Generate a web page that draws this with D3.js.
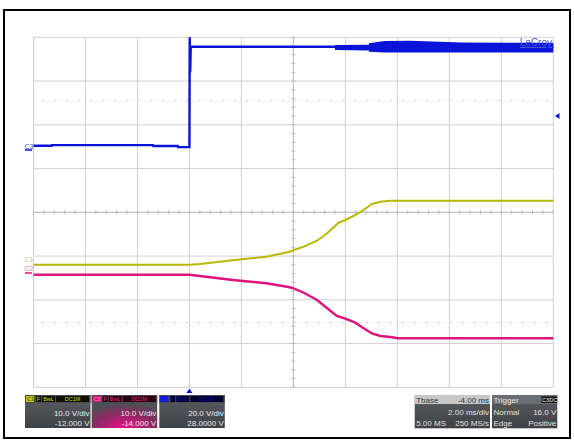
<!DOCTYPE html>
<html><head><meta charset="utf-8">
<script src="https://cdn.jsdelivr.net/npm/d3@7"></script>
<style>html,body{margin:0;padding:0;background:#fff;}svg{display:block;font-family:"Liberation Sans",Arial,sans-serif;}</style>
</head><body>
<script>
// ---- data (time in ms relative to trigger, values in volts) ----
const channels = ["C1","C2","C3"];
const chColors = ["#b8b800","#e0127c","#0a14d8"];
const voltsPerDiv = [10, 10, 20];
const offsets = [-12, -14, 28];
const vdivLabels = ["10.0 V/div","10.0 V/div","20.0 V/div"];
const offsetLabels = ["-12.000 V","-14.000 V","28.0000 V"];

const c1Time = [-6, 0, 0.4, 1.67, 2.96, 3.86, 4.01, 4.4, 4.91, 5.3, 5.74, 6.0, 6.38, 6.7, 7.02, 7.35, 7.73, 14];
const c1Volts = [0, 0, 0.18, 1.03, 1.85, 3.0, 3.38, 4.14, 5.51, 7.2, 9.62, 10.24, 11.38, 12.53, 13.9, 14.42, 14.65, 14.65];

const c2Time = [-6, 0, 0.4, 1.67, 2.96, 3.86, 4.01, 4.4, 4.91, 5.3, 5.67, 6.0, 6.38, 6.7, 7.02, 7.35, 7.73, 8.02, 14];
const c2Volts = [-0.26, -0.26, -0.56, -1.47, -2.23, -3.14, -3.37, -4.38, -6.05, -7.94, -9.7, -10.32, -11.23, -12.51, -13.66, -14.27, -14.5, -14.8, -14.8];

const c3Time = [-6, -5.3, -5.29, -1.4, -1.39, -0.45, -0.44, 0, 0.01, 0.03, 0.05, 14];
const c3Volts = [2.4, 2.4, 2.7, 2.7, 2.3, 2.3, 1.8, 1.8, 52, 36, 47.7, 47.7];
// noise envelope of C3 after the step
const c3EnvTime = [5.6, 6.9, 6.91, 7.5, 8.5, 10.5, 14];
const c3EnvHigh = [48.5, 48.6, 49.3, 50.3, 50.4, 49.6, 49.5];
const c3EnvLow = [46.2, 46.0, 45.4, 45.0, 45.0, 45.0, 45.0];

const triggerTime = 0, triggerLevel = 16.0;
const timeDomain = [-6, 14];   // 10 div x 2 ms/div, Tbase -4.00 ms
const divDomain = [-4, 4];

const tbaseRows = [["Tbase","-4.00 ms"],["","2.00 ms/div"],["5.00 MS","250 MS/s"]];
const triggerRows = [["Trigger",""],["Normal","16.0 V"],["Edge","Positive"]];

// ---- drawing ----
const W = 574, H = 440;
const svg = d3.select("body").append("svg").attr("width", W).attr("height", H);
const defs = svg.append("defs");

// frame
svg.append("rect").attr("x",4).attr("y",10).attr("width",566).attr("height",428)
  .attr("fill","#fff").attr("stroke","#000").attr("stroke-width",2);

const x = d3.scaleLinear().domain(timeDomain).range([33.5, 553.3]);
const yd = d3.scaleLinear().domain(divDomain).range([387.3, 37.3]);
const yCh = i => v => yd((v + offsets[i]) / voltsPerDiv[i]);

const g = svg.append("g");
// grid
const xDivs = d3.range(timeDomain[0], timeDomain[1] + 0.001, 2);
const yDivs = d3.range(-4, 4.001, 1);
g.selectAll("line.vg").data(xDivs).join("line")
  .attr("x1", d => x(d)).attr("x2", d => x(d)).attr("y1", yd(4)).attr("y2", yd(-4))
  .attr("stroke", "#d0d0d0").attr("stroke-width", 1);
g.selectAll("line.hg").data(yDivs).join("line")
  .attr("y1", d => yd(d)).attr("y2", d => yd(d)).attr("x1", x(timeDomain[0])).attr("x2", x(timeDomain[1]))
  .attr("stroke", "#d0d0d0").attr("stroke-width", 1);
// dotted lines at +/- 2.5 div
g.selectAll("line.dg").data([2.55, -2.52]).join("line")
  .attr("y1", d => yd(d)).attr("y2", d => yd(d)).attr("x1", x(timeDomain[0]) + 8).attr("x2", x(timeDomain[1]) - 4)
  .attr("stroke", "#d4d4d4").attr("stroke-width", 1).attr("stroke-dasharray", "3,4,1,4");
// center axis minor ticks
const tc = 4;
g.selectAll("line.mx").data(d3.range(timeDomain[0], timeDomain[1] + 0.001, 0.4)).join("line")
  .attr("x1", d => x(d)).attr("x2", d => x(d)).attr("y1", yd(0) - 2).attr("y2", yd(0) + 2)
  .attr("stroke", "#b8b8b8");
g.selectAll("line.my").data(d3.range(-4, 4.001, 0.2)).join("line")
  .attr("y1", d => yd(d)).attr("y2", d => yd(d)).attr("x1", x(tc) - 2).attr("x2", x(tc) + 2)
  .attr("stroke", "#b8b8b8");
g.append("line").attr("x1", x(timeDomain[0])).attr("x2", x(timeDomain[1])).attr("y1", yd(0)).attr("y2", yd(0)).attr("stroke", "#c0c0c0");
g.append("line").attr("x1", x(tc)).attr("x2", x(tc)).attr("y1", yd(4)).attr("y2", yd(-4)).attr("stroke", "#c0c0c0");

// traces
const mk = (ts, vs) => ts.map((t, k) => [t, vs[k]]);
const line = i => d3.line().x(d => x(d[0])).y(d => yCh(i)(d[1]));
// C3 envelope
svg.append("path").datum(c3EnvTime.map((t,k)=>[t,c3EnvLow[k],c3EnvHigh[k]]))
  .attr("d", d3.area().x(d => x(d[0])).y0(d => yCh(2)(d[1])).y1(d => yCh(2)(d[2])))
  .attr("fill", chColors[2]);
svg.append("path").datum(mk(c3Time, c3Volts)).attr("d", line(2))
  .attr("fill", "none").attr("stroke", chColors[2]).attr("stroke-width", 2.4);
svg.append("path").datum(mk(c1Time, c1Volts)).attr("d", line(0))
  .attr("fill", "none").attr("stroke", chColors[0]).attr("stroke-width", 2);
svg.append("path").datum(mk(c2Time, c2Volts)).attr("d", line(1))
  .attr("fill", "none").attr("stroke", chColors[1]).attr("stroke-width", 2.4);

// LeCroy logo (drawn over the trace)
svg.append("text").attr("x", 552).attr("y", 46).attr("text-anchor", "end")
  .attr("font-size", 10).attr("fill", "#4a5ad8").attr("text-decoration", "underline").text("LeCroy");

// channel markers on left
const labelColors = ["#c8c878", "#d87aa8", "#5060c8"];
[[0, 259, null], [1, 268, 273], [2, 146, 150]].forEach(([i, ty, ly]) => {
  svg.append("text").attr("x", 24.5).attr("y", ty + 2.5).attr("font-size", 7)
    .attr("fill", labelColors[i]).text(channels[i]);
  if (ly) svg.append("line").attr("x1", 25).attr("x2", 32).attr("y1", ly).attr("y2", ly)
    .attr("stroke", chColors[i]).attr("stroke-width", 1.5);
});

// trigger markers
const tx = x(triggerTime), ty = yCh(2)(triggerLevel);
svg.append("path").attr("d", `M${tx-3},${393} L${tx+3},${393} L${tx},${388.5} Z`).attr("fill", chColors[2]);
svg.append("path").attr("d", `M${555},${ty} L${559.5},${ty-3} L${559.5},${ty+3} Z`).attr("fill", chColors[2]);

// channel info boxes
const gradBox = defs.append("linearGradient").attr("id","gbox").attr("x1",0).attr("y1",0).attr("x2",0).attr("y2",1);
gradBox.append("stop").attr("offset","0").attr("stop-color","#5a5e63");
gradBox.append("stop").attr("offset","1").attr("stop-color","#3e4146");
const gradM = defs.append("radialGradient").attr("id","gmag").attr("cx","0.5").attr("cy","1").attr("r","0.75");
gradM.append("stop").attr("offset","0").attr("stop-color","#f0108a");
gradM.append("stop").attr("offset","0.6").attr("stop-color","#8a2a62");
gradM.append("stop").attr("offset","1").attr("stop-color","#4e4f55");

const boxX = [25, 91.7, 159.3];
const hdrText = ["#d8d800", "#f02888", "#1010a0"];
const hdrBg = ["#101000", "#2a0010", "#000030"];
channels.forEach((c, i) => {
  const bx = boxX[i], bw = 65.5, by = 395, bh = 33;
  const bg = svg.append("g");
  bg.append("rect").attr("x", bx).attr("y", by).attr("width", bw).attr("height", bh)
    .attr("fill", i === 1 ? "url(#gmag)" : "url(#gbox)");
  bg.append("rect").attr("x", bx).attr("y", by).attr("width", bw).attr("height", 8).attr("fill", "#4a4d52");
  // badge
  bg.append("rect").attr("x", bx + 1).attr("y", by + 1).attr("width", 8).attr("height", 6).attr("fill", chColors[i] === "#b8b800" ? "#c8c800" : chColors[i]);
  bg.append("text").attr("x", bx + 2).attr("y", by + 6.3).attr("font-size", 5.5).attr("font-weight","bold")
    .attr("fill", i === 0 ? "#606000" : (i === 1 ? "#ff70b0" : "#2020ff")).text(c);
  const tags = [["F", 11, 5], ["BwL", 17, 13], ["DC1M", 31, 33]];
  tags.forEach(([t, ox, w]) => {
    bg.append("rect").attr("x", bx + ox).attr("y", by + 1).attr("width", w).attr("height", 6).attr("fill", hdrBg[i]);
    bg.append("text").attr("x", bx + ox + w / 2).attr("y", by + 6.2).attr("text-anchor", "middle")
      .attr("font-size", 5.5).attr("fill", hdrText[i]).text(t);
  });
  bg.append("text").attr("x", bx + bw - 1).attr("y", by + 20.5).attr("text-anchor", "end")
    .attr("font-size", 8).attr("fill", "#e8e8e8").text(vdivLabels[i]);
  bg.append("text").attr("x", bx + bw - 1).attr("y", by + 31).attr("text-anchor", "end")
    .attr("font-size", 8).attr("fill", "#e8e8e8").text(offsetLabels[i]);
});

// timebase & trigger boxes
function infoBox(bx, bw, rows, hdrFill, hdrColor) {
  const by = 395, bh = 33.3;
  const bg = svg.append("g");
  bg.append("rect").attr("x", bx).attr("y", by).attr("width", bw).attr("height", bh).attr("fill", "url(#gbox)");
  bg.append("rect").attr("x", bx).attr("y", by).attr("width", bw).attr("height", 9).attr("fill", hdrFill);
  const ys = [by + 7.6, by + 19.5, by + 30.5];
  rows.forEach((r, k) => {
    const col = k === 0 ? hdrColor : "#e0e0e0";
    if (r[0]) bg.append("text").attr("x", bx + 1.5).attr("y", ys[k]).attr("font-size", 8).attr("fill", col).text(r[0]);
    if (r[1]) bg.append("text").attr("x", bx + bw - 1).attr("y", ys[k]).attr("text-anchor", "end").attr("font-size", 8).attr("fill", col).text(r[1]);
  });
  return bg;
}
infoBox(414.7, 75.3, tbaseRows, "#c8c8c8", "#303030");
const trg = infoBox(492, 65.3, triggerRows, "#6a6d72", "#e8e8e8");
[["C3", 541.5, 8], ["DC", 550, 7]].forEach(([t, bx, w]) => {
  trg.append("rect").attr("x", bx).attr("y", 396.5).attr("width", w).attr("height", 6.5).attr("fill", "#111");
  trg.append("text").attr("x", bx + w / 2).attr("y", 401.8).attr("text-anchor", "middle").attr("font-size", 5.5)
    .attr("fill", "#eee").text(t);
});
</script>
</body></html>
